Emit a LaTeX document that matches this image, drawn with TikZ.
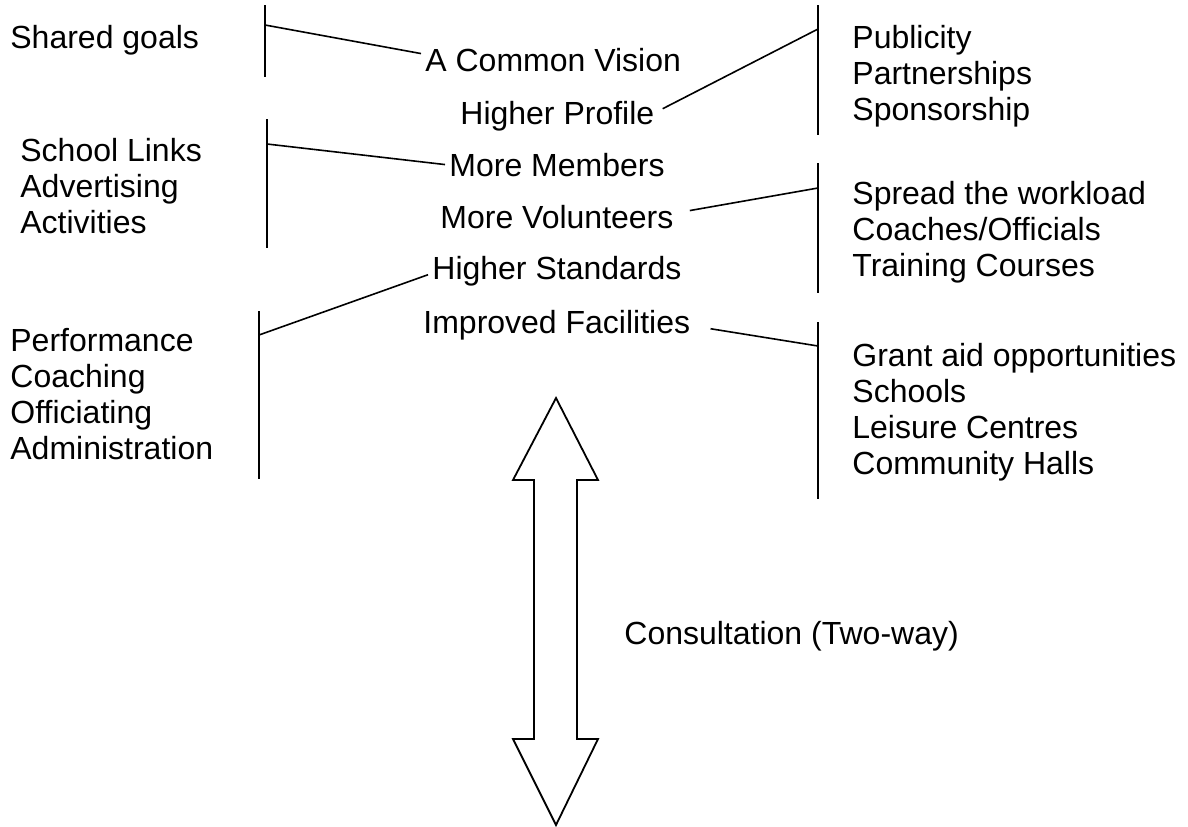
\documentclass[tikz,border=0pt]{standalone}
\usepackage{fontspec}
\setmainfont{Liberation Sans}
\usepackage{tikz}
\usetikzlibrary{positioning, calc}
\tikzset{
  textnode/.style = {inner sep=2pt, font=\fontsize{16}{18}\selectfont},
  lst_n/.style = {textnode, align=left, anchor=base west},
  ctr_n/.style = {textnode, anchor=base west},
  brk/.style = {line width=0.9pt},
  lnk/.style = {line width=0.8pt}
}
\begin{document}
\begin{tikzpicture}[x=0.5pt,y=-0.5pt]
  \useasboundingbox (0,0) rectangle (1188,826);
  \node [lst_n] (goals) at (6,48) {Shared goals};
  \node [lst_n] (links) at (16,233) {School Links\\Advertising\\Activities};
  \node [lst_n] (perf) at (6,459) {Performance\\Coaching\\Officiating\\Administration};
  \node [ctr_n] (vision) at (421,71) {A Common Vision};
  \node [ctr_n] (profile) at (456,124) {Higher Profile};
  \node [ctr_n] (members) at (445,176) {More Members};
  \node [ctr_n] (volunteers) at (436,228) {More Volunteers};
  \node [ctr_n] (standards) at (428,279) {Higher Standards};
  \node [ctr_n] (facilities) at (419,333) {Improved Facilities};
  \node [lst_n] (publicity) at (848,120) {Publicity\\Partnerships\\Sponsorship};
  \node [lst_n] (spread) at (848,276) {Spread the workload\\Coaches/Officials\\Training Courses};
  \node [lst_n] (grant) at (848,474) {Grant aid opportunities\\Schools\\Leisure Centres\\Community Halls};
  \node [ctr_n] (consult) at (620,644) {Consultation (Two-way)};
  \draw [brk] (265,5) -- (265,77);
  \draw [brk] (267,119) -- (267,248);
  \draw [brk] (259,311) -- (259,479);
  \draw [brk] (818,5) -- (818,135);
  \draw [brk] (818,163) -- (818,293);
  \draw [brk] (818,322) -- (818,499);
  \coordinate (l1) at (265,25);
  \coordinate (l2) at (267,144);
  \coordinate (l3) at (259,335);
  \coordinate (r1) at (818,29);
  \coordinate (r2) at (818,188);
  \coordinate (r3) at (818,346);
  \draw [lnk] (l1) -- ([yshift=3pt]vision.west);
  \draw [lnk] (l2) -- (members.west);
  \draw [lnk] (l3) -- ([yshift=-2pt]standards.west);
  \draw [lnk] ([xshift=2pt,yshift=3.5pt]profile.east) -- (r1);
  \draw [lnk] ([xshift=6pt,yshift=3pt]volunteers.east) -- (r2);
  \draw [lnk] ([xshift=8pt,yshift=-2pt]facilities.east) -- (r3);
  \draw [brk, line join=miter] (556,398) -- (598,480) -- (577,480) -- (577,739) -- (598,739)
    -- (556,825) -- (513,739) -- (534,739) -- (534,480) -- (513,480) -- cycle;
\end{tikzpicture}
\end{document}
